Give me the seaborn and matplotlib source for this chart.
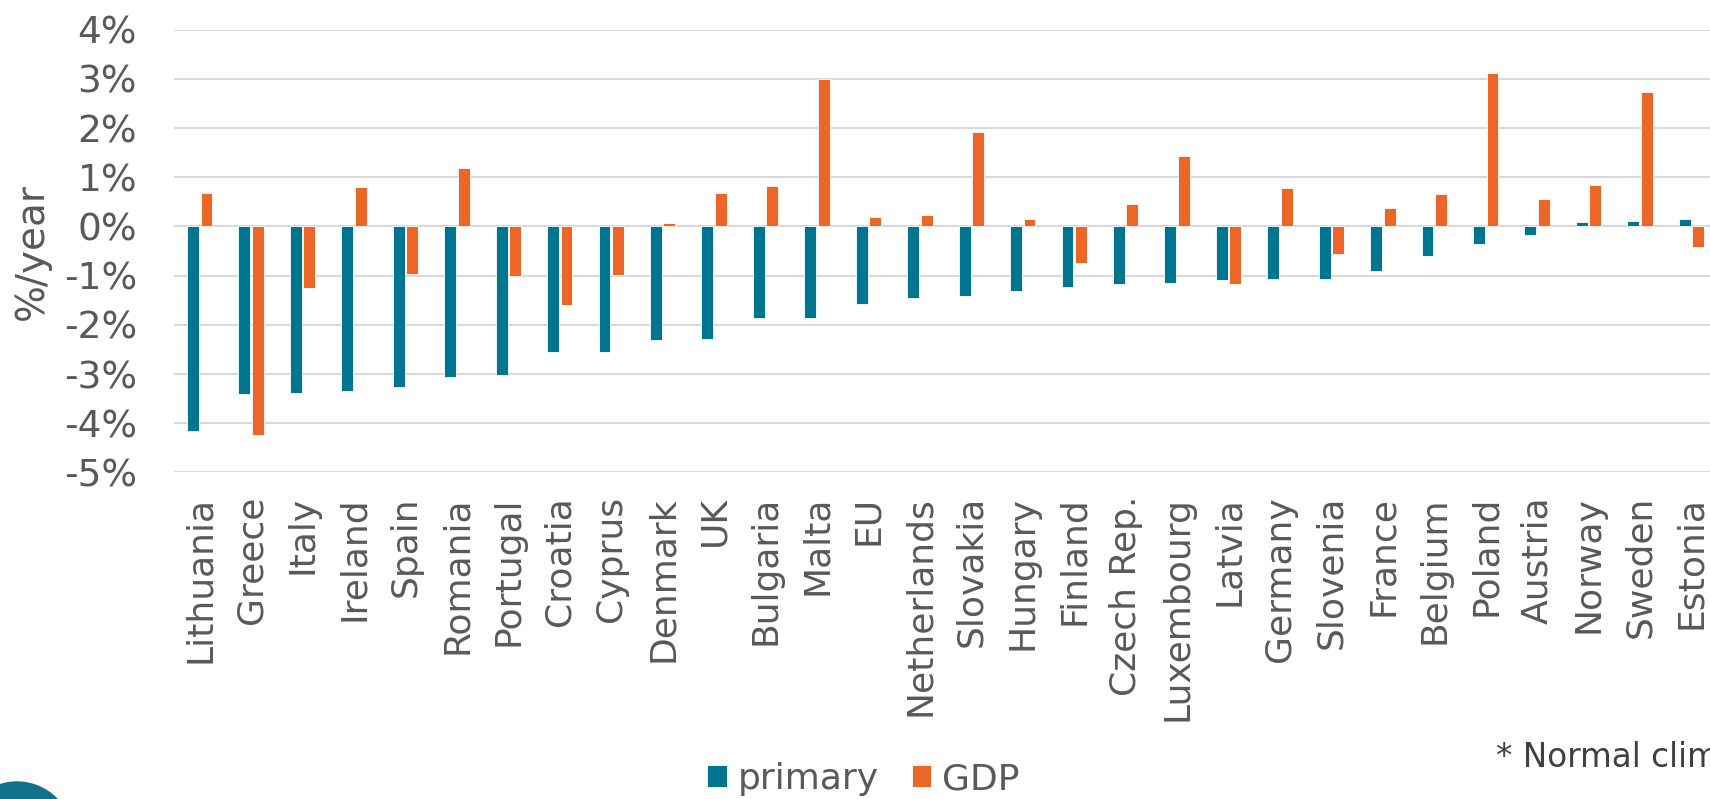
import numpy as np
import pandas as pd
import matplotlib
matplotlib.use('Agg')
import matplotlib.pyplot as plt
from matplotlib.patches import Circle
from matplotlib.ticker import FuncFormatter
import seaborn as sns

# -----------------------------------------------------------------------------
# Data (%/year)
# -----------------------------------------------------------------------------
countries = ['Lithuania', 'Greece', 'Italy', 'Ireland', 'Spain', 'Romania',
             'Portugal', 'Croatia', 'Cyprus', 'Denmark', 'UK', 'Bulgaria',
             'Malta', 'EU', 'Netherlands', 'Slovakia', 'Hungary', 'Finland',
             'Czech Rep.', 'Luxembourg', 'Latvia', 'Germany', 'Slovenia',
             'France', 'Belgium', 'Poland', 'Austria', 'Norway', 'Sweden',
             'Estonia']
primary = [-4.15, -3.40, -3.38, -3.35, -3.26, -3.05, -3.01, -2.56, -2.56,
           -2.31, -2.28, -1.86, -1.86, -1.58, -1.46, -1.41, -1.31, -1.23,
           -1.17, -1.14, -1.08, -1.06, -1.06, -0.91, -0.60, -0.36, -0.18,
           0.09, 0.12, 0.15]
gdp = [0.68, -4.24, -1.25, 0.81, -0.96, 1.18, -1.00, -1.60, -0.99, 0.07,
       0.68, 0.83, 3.00, 0.20, 0.23, 1.92, 0.15, -0.74, 0.46, 1.44, -1.16,
       0.79, -0.55, 0.38, 0.66, 3.13, 0.56, 0.85, 2.73, -0.42]
series_names = ['primary', 'GDP']

TEAL = '#00758F'
ORANGE = '#EC6628'
TEXT = '#595959'

df = pd.DataFrame({
    'country': countries * 2,
    'series': [series_names[0]] * len(countries) + [series_names[1]] * len(countries),
    'value': primary + gdp,
})

# -----------------------------------------------------------------------------
# Figure
# -----------------------------------------------------------------------------
sns.set_theme(style='white')
plt.rcParams['font.family'] = ['DejaVu Sans']

fig = plt.figure(figsize=(17.1, 7.99), dpi=100)
ax = fig.add_axes([0.10175, 0.40864, 0.89825, 0.55419])

sns.barplot(data=df, x='country', y='value', hue='series', order=countries,
            hue_order=series_names, palette=[TEAL, ORANGE], errorbar=None,
            width=0.525, gap=0.12, edgecolor='white', linewidth=0.6,
            saturation=1, ax=ax)

ax.set_ylim(-5, 4)
ax.set_xlim(-0.5, 29.36)
ax.set_yticks(np.arange(-5, 5, 1))
ax.yaxis.set_major_formatter(FuncFormatter(lambda v, p: f'{int(round(v))}%'))
ax.yaxis.grid(True, color='#d9d9d9', linewidth=1.5)
ax.set_axisbelow(True)
for s in ax.spines.values():
    s.set_visible(False)

ax.tick_params(axis='y', length=0, pad=26.5, labelsize=27, labelcolor=TEXT)
ax.tick_params(axis='x', length=0, pad=17, labelsize=26, labelcolor=TEXT)
for t in ax.get_xticklabels():
    t.set_rotation(90)

ax.set_xlabel('')
ax.set_ylabel('%/year', fontsize=28, color=TEXT)
ax.yaxis.set_label_coords(-0.080, 0.5)

handles, labels = ax.get_legend_handles_labels()
ax.legend(handles, labels, loc='center', bbox_to_anchor=(0.505, 0.025),
          bbox_transform=fig.transFigure, ncol=2, frameon=False,
          fontsize=26, handlelength=0.55, handleheight=0.55,
          handletextpad=0.3, columnspacing=0.9, labelcolor=TEXT)

fig.text(1496 / 1710, 1 - 766.7 / 799, '* Normal climate', fontsize=23.5,
         color='#404040', ha='left', va='baseline')

# logo circle peeking in at the lower-left corner
fig.add_artist(Circle((0.17, -0.385), 0.555, transform=fig.dpi_scale_trans,
                      color='#137089', clip_on=False))

fig.savefig('out.png', dpi=100)
